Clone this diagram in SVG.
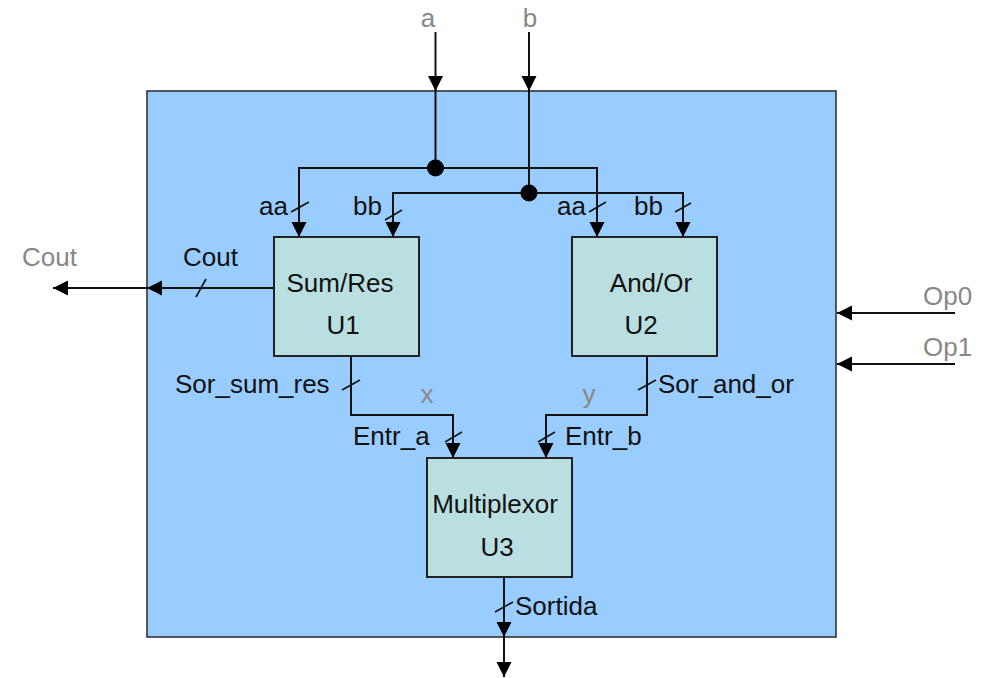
<svg xmlns="http://www.w3.org/2000/svg" width="984" height="678" viewBox="0 0 984 678">
<defs>
<marker id="arr" markerUnits="userSpaceOnUse" markerWidth="16" markerHeight="16" refX="15" refY="7.5" orient="auto">
<path d="M0,0 L15,7.5 L0,15 z" fill="#000"/>
</marker>
<style>
.w{fill:none;stroke:#111;stroke-width:2}
.a{fill:none;stroke:#111;stroke-width:2;marker-end:url(#arr)}
.s{fill:none;stroke:#111;stroke-width:1.6}
.t{font-family:"Liberation Sans",Arial,sans-serif;font-size:26px;fill:#111}
.g{font-family:"Liberation Sans",Arial,sans-serif;font-size:26px;fill:#888}
.blk{fill:#BADFE1;stroke:#222;stroke-width:2}
</style>
</defs>
<rect width="984" height="678" fill="#fff"/>
<g id="system">
<rect x="147" y="91" width="689" height="546" fill="#99CCFF" stroke="#333" stroke-width="1.6"/>
</g>
<g id="U1">
<rect class="blk" x="274" y="237" width="145" height="119"/>
<text class="t" x="340" y="292" text-anchor="middle">Sum/Res</text>
<text class="t" x="343" y="334" text-anchor="middle">U1</text>
</g>
<g id="U2">
<rect class="blk" x="572" y="237" width="145" height="119"/>
<text class="t" x="651" y="292" text-anchor="middle">And/Or</text>
<text class="t" x="641" y="334" text-anchor="middle">U2</text>
</g>
<g id="U3">
<rect class="blk" x="427" y="458" width="145" height="119"/>
<text class="t" x="495" y="513" text-anchor="middle">Multiplexor</text>
<text class="t" x="497" y="556" text-anchor="middle">U3</text>
</g>
<g id="connectors">
<!-- a -->
<path class="a" d="M435.5,32 V91"/>
<path class="w" d="M435.5,91 V168"/>
<path class="a" d="M435.5,168 H299 V237"/>
<path class="a" d="M435.5,168 H597 V237"/>
<circle cx="435.5" cy="168" r="8.5" fill="#000"/>
<!-- b -->
<path class="a" d="M529,32 V91"/>
<path class="w" d="M529,91 V193"/>
<path class="a" d="M529,193 H393 V237"/>
<path class="a" d="M529,193 H683 V237"/>
<circle cx="529" cy="193" r="8.5" fill="#000"/>
<!-- Cout -->
<path class="a" d="M274,288 H147"/>
<path class="a" d="M147,288 H53"/>
<!-- Sor_sum_res -> Entr_a -->
<path class="a" d="M351,356 V415 H453 V458"/>
<!-- Sor_and_or -> Entr_b -->
<path class="a" d="M647,356 V415 H546 V458"/>
<!-- Sortida -->
<path class="a" d="M504,577 V637"/>
<path class="a" d="M504,637 V677"/>
<!-- Op0, Op1 -->
<path class="a" d="M955,313 H837"/>
<path class="a" d="M955,364 H837"/>
<!-- bus slashes -->
<path class="s" d="M291,212 L309,202"/>
<path class="s" d="M385,220 L402,210"/>
<path class="s" d="M589,212 L606,202"/>
<path class="s" d="M675,212 L691,203"/>
<path class="s" d="M196,297 L206,279"/>
<path class="s" d="M342,390 L360,380"/>
<path class="s" d="M445,442 L462,432"/>
<path class="s" d="M638,390 L656,380"/>
<path class="s" d="M538,442 L555,432"/>
<path class="s" d="M495,612 L513,602"/>
</g>
<g id="labels">
<text class="g" x="428" y="27" text-anchor="middle">a</text>
<text class="g" x="530" y="27" text-anchor="middle">b</text>
<text class="t" x="259" y="215">aa</text>
<text class="t" x="353" y="215">bb</text>
<text class="t" x="557" y="215">aa</text>
<text class="t" x="634" y="215">bb</text>
<text class="g" x="22" y="266">Cout</text>
<text class="t" x="183" y="266">Cout</text>
<text class="t" x="175" y="393">Sor_sum_res</text>
<text class="t" x="658" y="393">Sor_and_or</text>
<text class="g" x="427" y="403" text-anchor="middle">x</text>
<text class="g" x="589" y="403" text-anchor="middle">y</text>
<text class="t" x="353" y="445">Entr_a</text>
<text class="t" x="565" y="445">Entr_b</text>
<text class="t" x="515" y="615">Sortida</text>
<text class="g" x="923" y="305">Op0</text>
<text class="g" x="923" y="356">Op1</text>
</g>
</svg>
